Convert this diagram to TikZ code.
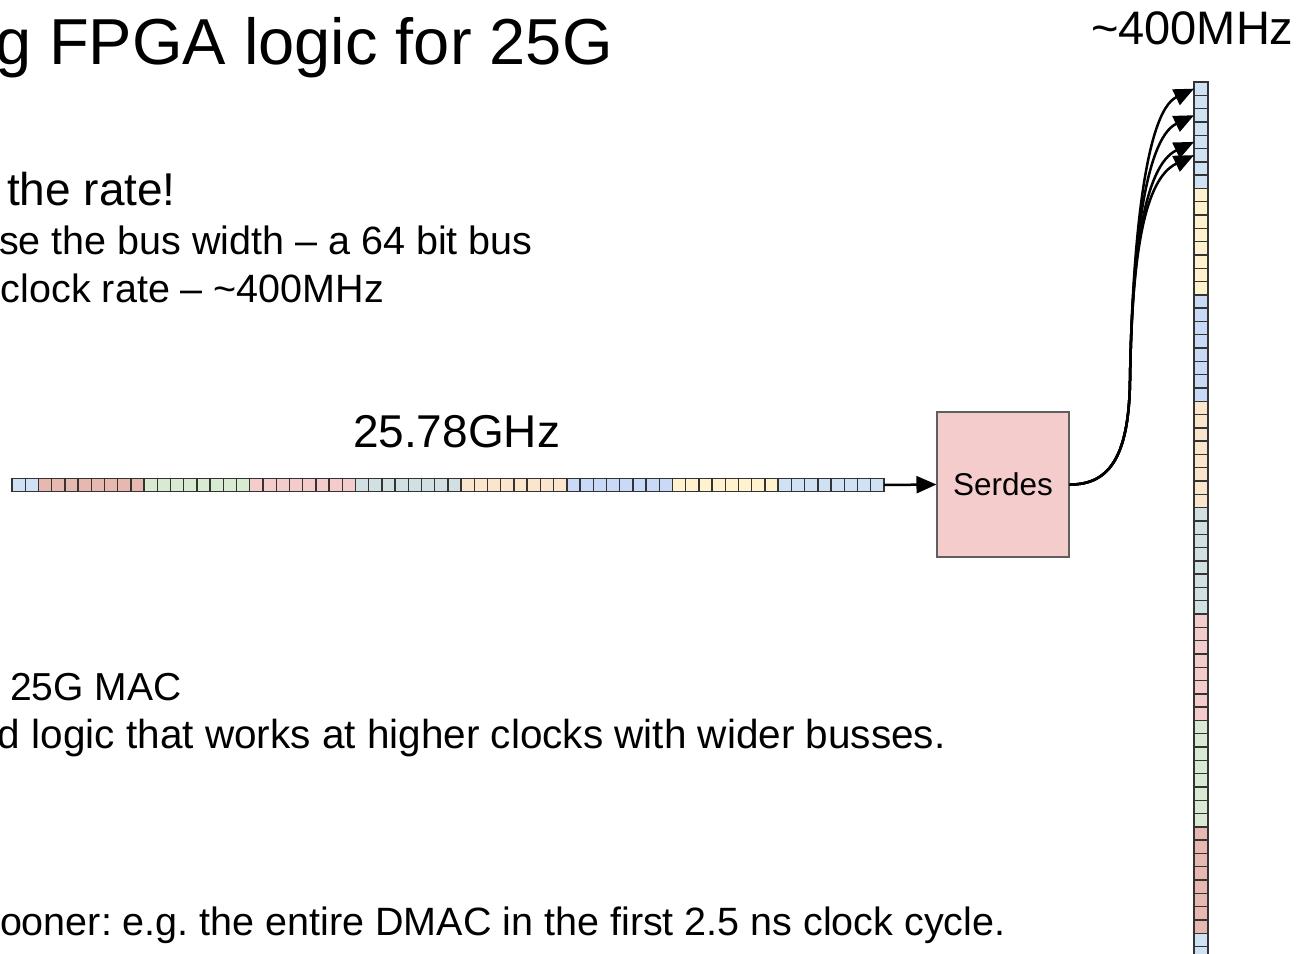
\documentclass[tikz,border=0pt]{standalone}
\usepackage{fontspec}
\setmainfont{Liberation Sans}
\usetikzlibrary{arrows.meta}

% lane colours of the serial stream, in the order the words arrive
\definecolor{bus0}{HTML}{CFE2F3}
\definecolor{bus1}{HTML}{E6B8AF}
\definecolor{bus2}{HTML}{D9EAD3}
\definecolor{bus3}{HTML}{F4CCCC}
\definecolor{bus4}{HTML}{D0E0E3}
\definecolor{bus5}{HTML}{FCE5CD}
\definecolor{bus6}{HTML}{C9DAF8}
\definecolor{bus7}{HTML}{FFF2CC}
\definecolor{bus8}{HTML}{CFE2F3}
\definecolor{cellline}{HTML}{333333}
\definecolor{boxline}{HTML}{5F5F5F}
\definecolor{boxfill}{HTML}{F4CCCC}

\newcommand\txtsize[1]{\fontsize{#1}{#1}\selectfont}
\frenchspacing

\begin{document}
\begin{tikzpicture}[x=1pt,y=-1pt,
  cell/.style={draw=cellline, line width=1.4pt, inner sep=0pt, outer sep=0pt},
  hcell/.style={cell, minimum width=13.21pt, minimum height=13.5pt},
  vcell/.style={cell, minimum width=14pt, minimum height=13.3pt},
  txt/.style={anchor=base west, inner sep=0pt, outer sep=0pt, text=black},
  link/.style={line width=2.5pt, -{Triangle[length=20pt,width=17pt]}}]
\useasboundingbox (0,0) rectangle (1301,953);
\clip (0,0) rectangle (1301,953);

% slide text
\node[txt] (title) at (-5,64) {\txtsize{65}g FPGA logic for 25G};
\node[txt] (rate) at (7,205) {\txtsize{46}the rate!};
\node[txt] (width) at (-1,254) {\txtsize{39.5}se the bus width – a 64 bit bus};
\node[txt] (clock) at (1,302) {\txtsize{39.5}clock rate – \textasciitilde400MHz};
\node[txt] (mac) at (10,700) {\txtsize{39}25G MAC};
\node[txt] (logic) at (-2,748) {\txtsize{40.5}d logic that works at higher clocks with wider busses.};
\node[txt] (sooner) at (0,935) {\txtsize{39.5}ooner: e.g. the entire DMAC in the first 2.5 ns clock cycle.};

% serial stream
\node[txt] (fast) at (353,447) {\txtsize{46}25.78GHz};
\foreach \i in {0,...,65} {
  \pgfmathtruncatemacro\c{(\i+6)/8}
  \node[hcell, fill=bus\c] (h\i) at ({12+13.21*(\i+0.5)},485) {};
}

% deserialiser
\node[draw=boxline, fill=boxfill, line width=1.1pt, minimum width=132pt,
      minimum height=145pt, inner sep=0pt] (serdes) at (1003,484.5)
      {\txtsize{31.5}Serdes};
\draw[link] (h65.east) -- (serdes.west);

% parallel word
\node[txt] (slow) at (1091,44) {\txtsize{47}\textasciitilde400MHz};
\foreach \i in {0,...,65} {
  \pgfmathtruncatemacro\c{8-floor(\i/8)}
  \pgfmathtruncatemacro\c{\c<0 ? 0 : \c}
  \node[vcell, fill=bus\c] (v\i) at (1201,{82+13.3*(\i+0.5)}) {};
}

\foreach \t in {0,2,4,5}
  \draw[link] (serdes.east) .. controls (1112,485) and (1129,452) .. (1130,380)
    .. controls (1132,255) and +(-50,24) .. (v\t.west);
\end{tikzpicture}
\end{document}
